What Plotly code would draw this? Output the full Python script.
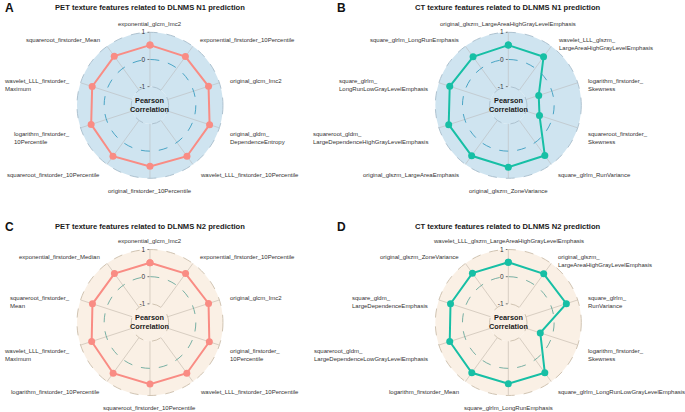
import math
import plotly.graph_objects as go

# ---------------- data ----------------
a_title = "PET texture features related to DLNMS N1 prediction"
a_categories = ["exponential_glcm_Imc2", "exponential_firstorder_10Percentile", "original_glcm_Imc2",
                "original_gldm_DependenceEntropy", "wavelet_LLL_firstorder_10Percentile",
                "original_firstorder_10Percentile", "squareroot_firstorder_10Percentile",
                "logarithm_firstorder_10Percentile", "wavelet_LLL_firstorder_Maximum",
                "squareroot_firstorder_Mean"]
a_ticklabels = ["exponential_glcm_Imc2", "exponential_firstorder_10Percentile", "original_glcm_Imc2",
                "original_gldm_<br>DependenceEntropy", "wavelet_LLL_firstorder_10Percentile",
                "original_firstorder_10Percentile", "squareroot_firstorder_10Percentile",
                "logarithm_firstorder_<br>10Percentile", "wavelet_LLL_firstorder_<br>Maximum",
                "squareroot_firstorder_Mean"]
a_values = [0.53, 0.53, 0.58, 0.62, 0.63, 0.56, 0.63, 0.59, 0.55, 0.55]

b_title = "CT texture features related to DLNMS N1 prediction"
b_categories = ["original_glszm_LargeAreaHighGrayLevelEmphasis", "wavelet_LLL_glszm_LargeAreaHighGrayLevelEmphasis",
                "logarithm_firstorder_Skewness", "squareroot_firstorder_Skewness", "square_glrlm_RunVariance",
                "original_glszm_ZoneVariance", "original_glszm_LargeAreaEmphasis",
                "squareroot_gldm_LargeDependenceHighGrayLevelEmphasis", "square_glrlm_LongRunLowGrayLevelEmphasis",
                "square_glrlm_LongRunEmphasis"]
b_ticklabels = ["original_glszm_LargeAreaHighGrayLevelEmphasis", "wavelet_LLL_glszm_<br>LargeAreaHighGrayLevelEmphasis",
                "logarithm_firstorder_<br>Skewness", "squareroot_firstorder_<br>Skewness", "square_glrlm_RunVariance",
                "original_glszm_ZoneVariance", "original_glszm_LargeAreaEmphasis",
                "squareroot_gldm_<br>LargeDependenceHighGrayLevelEmphasis", "square_glrlm_<br>LongRunLowGrayLevelEmphasis",
                "square_glrlm_LongRunEmphasis"]
b_values = [0.53, 0.52, -0.51, -0.48, 0.60, 0.59, 0.61, 0.62, 0.58, 0.52]

c_title = "PET texture features related to DLNMS N2 prediction"
c_categories = ["exponential_glcm_Imc2", "exponential_firstorder_10Percentile", "original_glcm_Imc2",
                "original_firstorder_10Percentile", "wavelet_LLL_firstorder_10Percentile",
                "squareroot_firstorder_10Percentile", "logarithm_firstorder_10Percentile",
                "wavelet_LLL_firstorder_Maximum", "squareroot_firstorder_Mean", "exponential_firstorder_Median"]
c_ticklabels = ["exponential_glcm_Imc2", "exponential_firstorder_10Percentile", "original_glcm_Imc2",
                "original_firstorder_<br>10Percentile", "wavelet_LLL_firstorder_10Percentile",
                "squareroot_firstorder_10Percentile", "logarithm_firstorder_10Percentile",
                "wavelet_LLL_firstorder_<br>Maximum", "squareroot_firstorder_<br>Mean", "exponential_firstorder_Median"]
c_values = [0.51, 0.54, 0.58, 0.61, 0.62, 0.58, 0.62, 0.57, 0.54, 0.54]

d_title = "CT texture features related to DLNMS N2 prediction"
d_categories = ["wavelet_LLL_glszm_LargeAreaHighGrayLevelEmphasis", "original_glszm_LargeAreaHighGrayLevelEmphasis",
                "square_glrlm_RunVariance", "logarithm_firstorder_Skewness",
                "square_glrlm_LongRunLowGrayLevelEmphasis", "square_glrlm_LongRunEmphasis",
                "logarithm_firstorder_Mean", "squareroot_gldm_LargeDependenceLowGrayLevelEmphasis",
                "square_gldm_LargeDependenceEmphasis", "original_glszm_ZoneVariance"]
d_ticklabels = ["wavelet_LLL_glszm_LargeAreaHighGrayLevelEmphasis", "original_glszm_<br>LargeAreaHighGrayLevelEmphasis",
                "square_glrlm_<br>RunVariance", "logarithm_firstorder_<br>Skewness",
                "square_glrlm_LongRunLowGrayLevelEmphasis", "square_glrlm_LongRunEmphasis",
                "logarithm_firstorder_Mean", "squareroot_gldm_<br>LargeDependenceLowGrayLevelEmphasis",
                "square_gldm_<br>LargeDependenceEmphasis", "original_glszm_ZoneVariance"]
d_values = [0.53, 0.53, 0.56, -0.45, 0.60, 0.57, 0.60, 0.58, 0.55, 0.56]

radial_ticks = [-1, 0, 1]
radial_ticktext = ["-1", "0", "1"]

# ---------------- style / layout ----------------
W, H = 685, 412
FONT = "Liberation Sans, Arial, sans-serif"
HOLE = 0.256
LABEL_FS = 6
LABEL_R = 83  # px from centre where category labels start

BLUE_BG, BEIGE_BG = "#cfe4f0", "#faf0e5"
PET_COL, CT_COL = "#f98c84", "#17bfa5"

panels = [
    dict(key="polar", letter="A", title=a_title, cats=a_categories, ticks=a_ticklabels, vals=a_values,
         col=PET_COL, bg=BLUE_BG, grid="#c3ccd2", edge="#a7bccb", zero="#3b9dbf",
         dx=[0.1124, 0.3255], dy=[0.5672, 0.9216]),
    dict(key="polar2", letter="B", title=b_title, cats=b_categories, ticks=b_ticklabels, vals=b_values,
         col=CT_COL, bg=BLUE_BG, grid="#c3ccd2", edge="#a7bccb", zero="#3b9dbf",
         dx=[0.6355, 0.8486], dy=[0.5672, 0.9216]),
    dict(key="polar3", letter="C", title=c_title, cats=c_categories, ticks=c_ticklabels, vals=c_values,
         col=PET_COL, bg=BEIGE_BG, grid="#d8cec2", edge="#cbbdaa", zero="#6aa89c",
         dx=[0.1124, 0.3255], dy=[0.0400, 0.3944]),
    dict(key="polar4", letter="D", title=d_title, cats=d_categories, ticks=d_ticklabels, vals=d_values,
         col=CT_COL, bg=BEIGE_BG, grid="#d8cec2", edge="#cbbdaa", zero="#6aa89c",
         dx=[0.6355, 0.8486], dy=[0.0400, 0.3944]),
]

fig = go.Figure()
shapes, annotations = [], []
layout_polars = {}

for p in panels:
    fig.add_trace(go.Scatterpolar(
        r=p["vals"] + p["vals"][:1], theta=p["cats"] + p["cats"][:1],
        mode="lines+markers", subplot=p["key"],
        line=dict(color=p["col"], width=2),
        marker=dict(color=p["col"], size=7),
        showlegend=False, hoverinfo="skip",
    ))
    layout_polars[p["key"]] = dict(
        domain=dict(x=p["dx"], y=p["dy"]),
        bgcolor=p["bg"],
        hole=HOLE,
        radialaxis=dict(range=[-1, 1], tickvals=radial_ticks, ticktext=radial_ticktext,
                        angle=90, tickangle=90, side="counterclockwise", showgrid=False, showline=False,
                        ticks="outside", ticklen=2, tickcolor="#777777", tickwidth=0.8,
                        showticklabels=True, layer="above traces",
                        tickfont=dict(size=6.5, color="#333333", family=FONT)),
        angularaxis=dict(rotation=90, direction="clockwise", categoryorder="array",
                         categoryarray=p["cats"], showticklabels=False, ticks="",
                         showline=False, gridcolor=p["grid"], gridwidth=0.8),
    )
    # geometry of the polar disc
    cx = (p["dx"][0] + p["dx"][1]) / 2
    cy = (p["dy"][0] + p["dy"][1]) / 2
    R = min((p["dx"][1] - p["dx"][0]) * W, (p["dy"][1] - p["dy"][0]) * H) / 2
    r_in = R * HOLE
    r_zero = r_in + (R - r_in) / 2

    def circ(r, **kw):
        return dict(type="circle", xref="paper", yref="paper",
                    x0=cx - r / W, x1=cx + r / W, y0=cy - r / H, y1=cy + r / H, **kw)

    shapes.append(circ(r_in, fillcolor=p["bg"], line=dict(width=0), layer="below"))
    shapes.append(circ(R, line=dict(color=p["edge"], width=0.9, dash="dash"), layer="above"))
    shapes.append(circ(r_in, line=dict(color=p["edge"], width=0.9, dash="dash"), layer="above"))
    shapes.append(circ(r_zero, line=dict(color=p["zero"], width=0.9, dash="dash"), layer="above"))

    # category labels around the disc (angle follows the clockwise angular axis from the top)
    n = len(p["cats"])
    for i, lab in enumerate(p["ticks"]):
        ang = math.radians(90 - 360.0 * i / n)
        ca, sa = math.cos(ang), math.sin(ang)
        if ca > 0.1:
            xa = "left"
        elif ca < -0.1:
            xa = "right"
        else:
            xa = "center"
        shift = 2.5 if sa < -0.1 else 1.5
        first_line_center = -LABEL_R * sa + shift  # px, downward positive
        y_top_px = first_line_center - LABEL_FS * 1.3 / 2
        annotations.append(dict(
            text=lab, x=cx + LABEL_R * ca / W, y=cy - y_top_px / H, xref="paper", yref="paper",
            xanchor=xa, yanchor="top", align="left", showarrow=False, borderpad=0,
            font=dict(size=LABEL_FS, color="#333333", family=FONT)))

    annotations.append(dict(text="<b>Pearson<br>Correlation</b>", x=cx, y=cy + 0.5 / H, xref="paper", yref="paper",
                            showarrow=False, font=dict(size=7.3, color="#1a1a1a", family=FONT),
                            xanchor="center", yanchor="middle"))
    title_y = 1 - 7.5 / H if p["dy"][1] > 0.5 else 1 - 226.7 / H
    annotations.append(dict(text="<b>" + p["title"] + "</b>", x=cx, y=title_y, xref="paper", yref="paper",
                            showarrow=False, font=dict(size=7.6, color="#1a1a1a", family=FONT),
                            xanchor="center", yanchor="middle"))
    letter_x = 3 / W if p["dx"][0] < 0.5 else 335 / W
    annotations.append(dict(text="<b>" + p["letter"] + "</b>", x=letter_x, y=title_y, xref="paper", yref="paper",
                            showarrow=False, font=dict(size=12, color="#111111", family=FONT),
                            xanchor="left", yanchor="middle"))

fig.update_layout(
    width=W, height=H, margin=dict(l=0, r=0, t=0, b=0),
    paper_bgcolor="white", plot_bgcolor="white",
    font=dict(family=FONT),
    shapes=shapes, annotations=annotations,
    **layout_polars,
)

fig.write_html("out.html", config={"displayModeBar": False},
               post_script="document.body.style.margin='0';document.body.style.padding='0';"
                           "document.documentElement.style.overflow='hidden';")
